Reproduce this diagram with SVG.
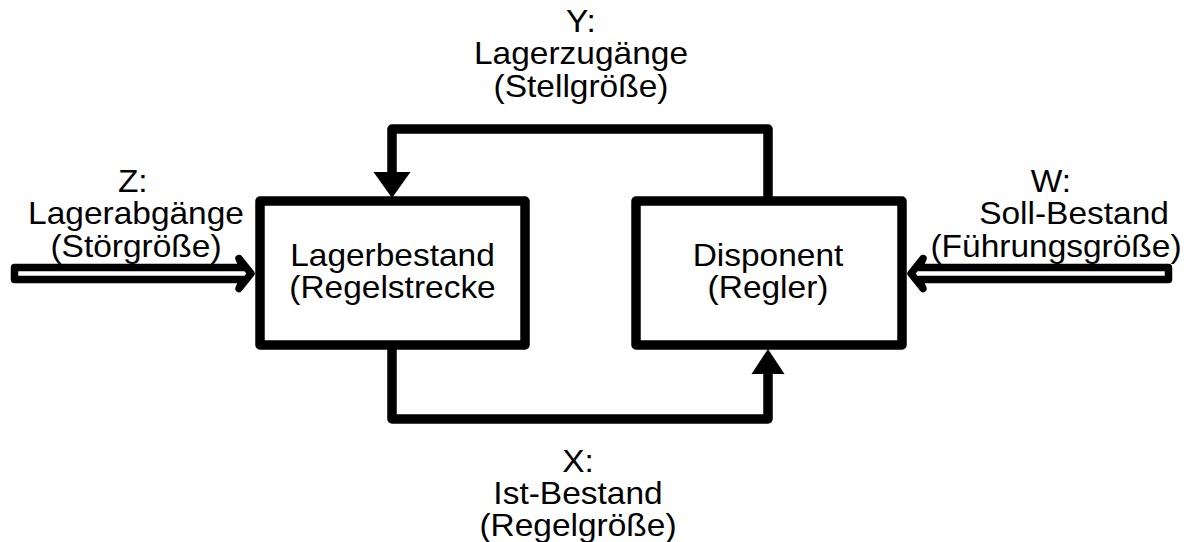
<svg xmlns="http://www.w3.org/2000/svg" width="1195" height="542" viewBox="0 0 1195 542">
  <style>
    .box { fill: #fff; stroke: #000; stroke-width: 9.5; stroke-linejoin: round; }
    .line { fill: none; stroke: #000; stroke-width: 9.5; stroke-linejoin: round; }
    .head { fill: #000; stroke: none; }
    .hollow { fill: #fff; stroke: #000; stroke-width: 7.5; stroke-linejoin: round; stroke-linecap: round; }
    text { font-family: "Liberation Sans", Arial, sans-serif; font-size: 31px; fill: #000; text-anchor: middle; }
  </style>
  <rect width="1195" height="542" fill="#fff"/>

  <g id="connectors">
    <!-- Y: Disponent -> Lagerbestand (top loop) -->
    <path class="line" d="M768,201 L768,129 L392,129 L392,174"/>
    <polygon class="head" points="373.5,172 410.5,172 392,198"/>
    <!-- X: Lagerbestand -> Disponent (bottom loop) -->
    <path class="line" d="M392,345 L392,419 L768,419 L768,371"/>
    <polygon class="head" points="751.5,374 784.5,374 768,349"/>
    <!-- Z: input to Lagerbestand -->
    <path class="hollow" d="M14.5,267.5 L243,267.5 L239,258.5 L251,273.5 L239,288.5 L243,279.5 L14.5,279.5 Z"/>
    <!-- W: input to Disponent -->
    <path class="hollow" d="M1168.5,267.5 L919,267.5 L923,258.5 L911,273.5 L923,288.5 L919,279.5 L1168.5,279.5 Z"/>
  </g>

  <g id="node-lagerbestand">
    <rect class="box" x="260" y="201" width="265" height="144"/>
    <g transform="translate(392.5,0) scale(1.08,1)">
      <text x="0" y="266">Lagerbestand</text>
      <text x="0" y="298">(Regelstrecke</text>
    </g>
  </g>

  <g id="node-disponent">
    <rect class="box" x="636" y="201" width="266" height="144"/>
    <g transform="translate(768,0) scale(1.08,1)">
      <text x="0" y="266">Disponent</text>
      <text x="0" y="298">(Regler)</text>
    </g>
  </g>

  <g id="label-y" transform="translate(581,0) scale(1.08,1)">
    <text x="0" y="32">Y:</text>
    <text x="0" y="64.5">Lagerzugänge</text>
    <text x="0" y="97">(Stellgröße)</text>
  </g>

  <g id="label-x" transform="translate(578,0) scale(1.08,1)">
    <text x="0" y="472">X:</text>
    <text x="0" y="504">Ist-Bestand</text>
    <text x="0" y="536">(Regelgröße)</text>
  </g>

  <g id="label-z" transform="translate(136,0) scale(1.08,1)">
    <text x="-3" y="192">Z:</text>
    <text x="0" y="224.5">Lagerabgänge</text>
    <text x="0" y="257">(Störgröße)</text>
  </g>

  <g id="label-w">
    <g transform="translate(1051,0) scale(1.08,1)"><text x="0" y="192">W:</text></g>
    <g transform="translate(1074,0) scale(1.08,1)"><text x="0" y="224.5">Soll-Bestand</text></g>
    <g transform="translate(1056,0) scale(1.08,1)"><text x="0" y="257">(Führungsgröße)</text></g>
  </g>
</svg>
